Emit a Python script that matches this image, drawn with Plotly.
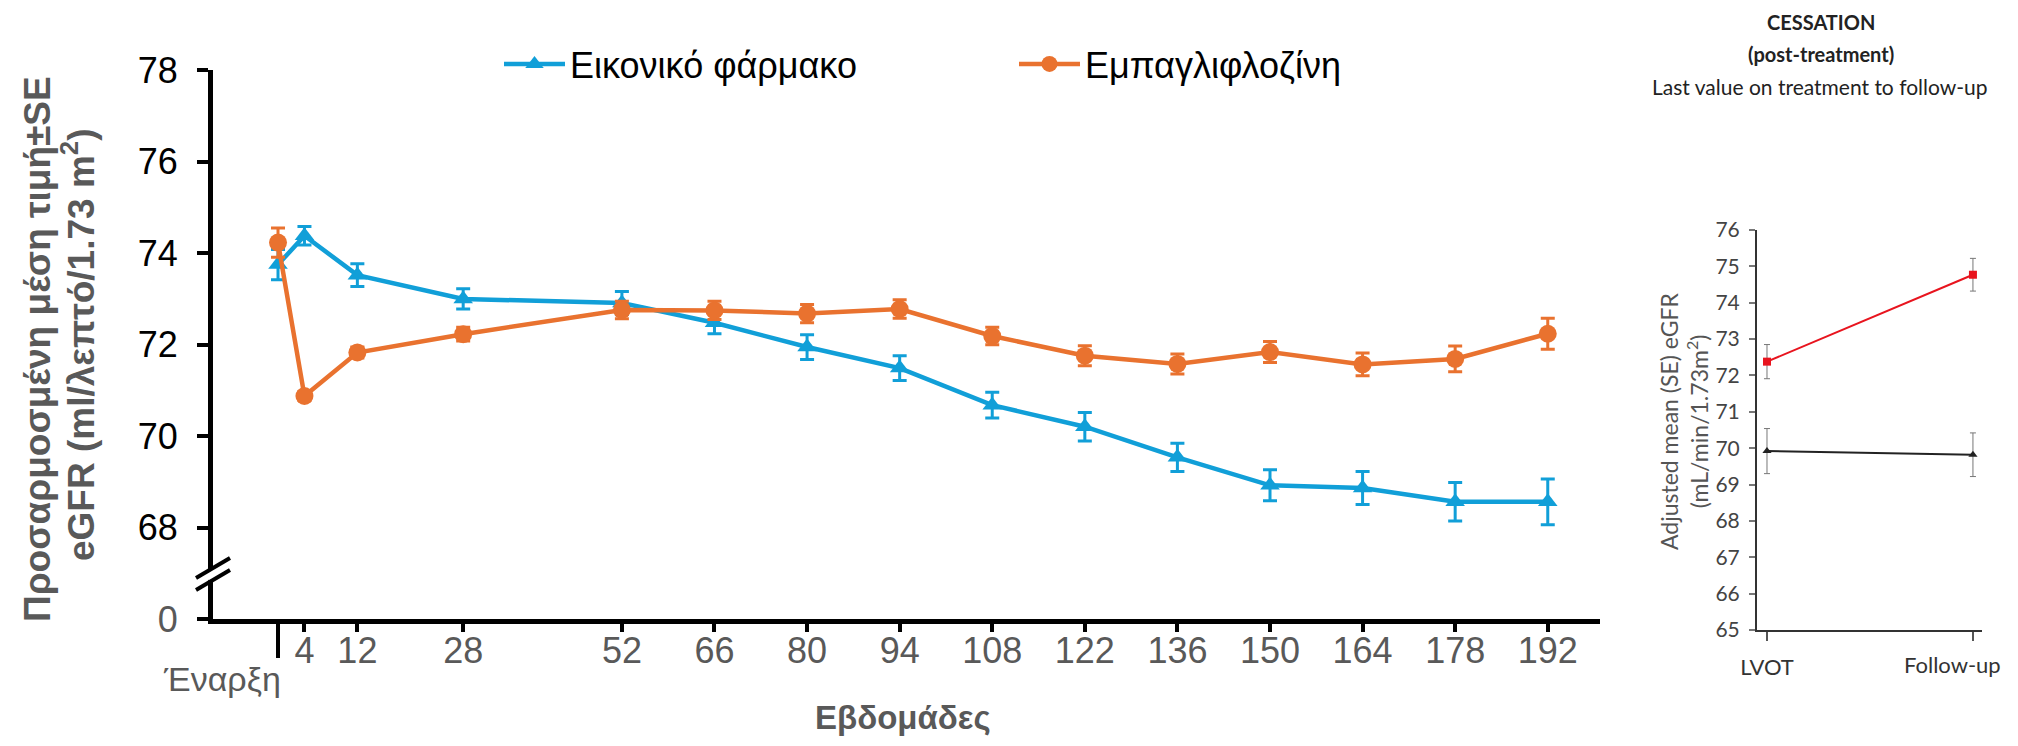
import plotly.graph_objects as go

# ---------------- data (main chart) ----------------
weeks = [0, 4, 12, 28, 52, 66, 80, 94, 108, 122, 136, 150, 164, 178, 192]
week_ticks = [4, 12, 28, 52, 66, 80, 94, 108, 122, 136, 150, 164, 178, 192]
placebo = [73.75, 74.38, 73.52, 73.00, 72.91, 72.48, 71.95, 71.49, 70.68, 70.21, 69.54, 68.93, 68.87, 68.57, 68.57]
placebo_se = [0.33, 0.20, 0.25, 0.22, 0.25, 0.24, 0.27, 0.27, 0.28, 0.31, 0.31, 0.34, 0.36, 0.42, 0.50]
empa = [74.23, 70.88, 71.83, 72.23, 72.76, 72.75, 72.68, 72.78, 72.19, 71.76, 71.58, 71.84, 71.57, 71.69, 72.24]
empa_se = [0.32, 0.10, 0.12, 0.15, 0.19, 0.20, 0.20, 0.20, 0.19, 0.22, 0.22, 0.23, 0.25, 0.28, 0.34]
y_ticks = [68, 70, 72, 74, 76, 78]
Y_BREAK_BASE = 66.01  # axis position labelled "0" (broken axis)

# ---------------- data (inset: cessation) ----------------
cess_cats = ["LVOT", "Follow-up"]
cess_red = [72.38, 74.77]
cess_red_se = [0.47, 0.45]
cess_black = [69.92, 69.82]
cess_black_se = [0.62, 0.60]
cess_ticks = list(range(65, 77))

BLUE = "#119FD8"
ORANGE = "#E9722F"
GRAY = "#595959"
FONT = "Liberation Sans, Arial, sans-serif"
FONT2 = "Lato, Open Sans, sans-serif"

W, H = 2018, 746
def px_x(p): return p / W
def px_y(p): return (H - p) / H

fig = go.Figure()

fig.add_trace(go.Scatter(
    x=weeks, y=placebo, name="Εικονικό φάρμακο", mode="lines+markers",
    line=dict(color=BLUE, width=4.5),
    marker=dict(symbol="triangle-up", size=17, color=BLUE),
    error_y=dict(type="data", array=placebo_se, color=BLUE, thickness=3, width=7),
    legend="legend",
))
fig.add_trace(go.Scatter(
    x=weeks, y=empa, name="Εμπαγλιφλοζίνη", mode="lines+markers",
    line=dict(color=ORANGE, width=4.5),
    marker=dict(symbol="circle", size=18, color=ORANGE),
    error_y=dict(type="data", array=empa_se, color=ORANGE, thickness=3, width=7),
    legend="legend2",
))

# inset
fig.add_trace(go.Scatter(
    x=[0, 1], y=cess_red, mode="lines+markers", showlegend=False,
    line=dict(color="#E8141E", width=2),
    marker=dict(symbol="square", size=8, color="#E8141E"),
    error_y=dict(type="data", array=cess_red_se, color="#777777", thickness=1, width=3),
    xaxis="x2", yaxis="y2",
))
fig.add_trace(go.Scatter(
    x=[0, 1], y=cess_black, mode="lines+markers", showlegend=False,
    line=dict(color="#222222", width=2),
    marker=dict(symbol="triangle-up", size=8, color="#222222"),
    error_y=dict(type="data", array=cess_black_se, color="#777777", thickness=1, width=3),
    xaxis="x2", yaxis="y2",
))

main_x_dom = [px_x(213), px_x(1600)]
main_y_dom = [px_y(619), px_y(70)]
ins_x_dom = [px_x(1757), px_x(1982)]
ins_y_dom = [px_y(630), px_y(230)]

fig.update_layout(
    width=W, height=H, autosize=False,
    margin=dict(l=0, r=0, t=0, b=0, autoexpand=False),
    paper_bgcolor="white", plot_bgcolor="white",
    font=dict(family=FONT, color="black"),
    xaxis=dict(
        domain=main_x_dom, range=[-9.83, 199.9],
        tickvals=week_ticks, ticktext=[str(v) for v in week_ticks],
        ticks="outside", ticklen=8, tickwidth=4, tickcolor="black",
        showline=True, linecolor="black", linewidth=5,
        showgrid=False, zeroline=False,
        tickfont=dict(family=FONT, size=36, color=GRAY),
        ticklabelstandoff=-12,
    ),
    yaxis=dict(
        domain=main_y_dom, range=[Y_BREAK_BASE, 78],
        tickvals=[Y_BREAK_BASE] + y_ticks,
        ticktext=["<span style='color:%s'>0</span>" % GRAY] + [str(v) for v in y_ticks],
        ticks="outside", ticklen=11, tickwidth=4, tickcolor="black",
        showline=True, linecolor="black", linewidth=5,
        showgrid=False, zeroline=False,
        tickfont=dict(family=FONT, size=36, color="black"),
        ticklabelstandoff=12,
    ),
    xaxis2=dict(
        domain=ins_x_dom, range=[-0.0485, 1.044], anchor="y2",
        tickvals=[0, 1], ticktext=[cess_cats[0], ""],
        ticks="outside", ticklen=9, tickwidth=1.5, tickcolor="#555555",
        showline=True, linecolor="#333333", linewidth=2,
        showgrid=False, zeroline=False,
        tickfont=dict(family=FONT2, size=22, color="#333333"),
        ticklabelstandoff=8,
    ),
    yaxis2=dict(
        domain=ins_y_dom, range=[65, 76], anchor="x2",
        tickvals=cess_ticks,
        ticks="outside", ticklen=6, tickwidth=1.5, tickcolor="#777777",
        showline=True, linecolor="#333333", linewidth=2,
        showgrid=False, zeroline=False,
        tickfont=dict(family=FONT2, size=21, color="#444444"),
        ticklabelstandoff=5,
    ),
    legend=dict(
        x=px_x(499), y=px_y(64), xanchor="left", yanchor="middle",
        orientation="h", bgcolor="rgba(0,0,0,0)", borderwidth=0,
        font=dict(family=FONT, size=36, color="black"), itemwidth=61,
    ),
    legend2=dict(
        x=px_x(1014), y=px_y(64), xanchor="left", yanchor="middle",
        orientation="h", bgcolor="rgba(0,0,0,0)", borderwidth=0,
        font=dict(family=FONT, size=36, color="black"), itemwidth=61,
    ),
)

# axis break marks on the main y axis
brk_x = px_x(213)
brk_y = px_y(574)
fig.add_shape(type="line", xref="paper", yref="paper", xsizemode="pixel", ysizemode="pixel",
              xanchor=brk_x, yanchor=brk_y, x0=-6, y0=-4, x1=6, y1=4,
              line=dict(color="white", width=8), layer="above")
for dy in (-6, 6):
    fig.add_shape(type="line", xref="paper", yref="paper", xsizemode="pixel", ysizemode="pixel",
                  xanchor=brk_x, yanchor=brk_y, x0=-17, y0=-10 + dy, x1=17, y1=10 + dy,
                  line=dict(color="black", width=4), layer="above")

# baseline tick (week 0)
fig.add_shape(type="line", xref="x", yref="paper", x0=0, x1=0,
              y0=px_y(619), y1=px_y(658), line=dict(color="black", width=4), layer="above")

annotations = [
    dict(text="Έναρξη", x=px_x(222), y=px_y(679), xref="paper", yref="paper",
         showarrow=False, xanchor="center", yanchor="middle",
         font=dict(family=FONT, size=34, color=GRAY)),
    dict(text="<b>Εβδομάδες</b>", x=px_x(903), y=px_y(717), xref="paper", yref="paper",
         showarrow=False, xanchor="center", yanchor="middle",
         font=dict(family=FONT, size=33, color=GRAY)),
    dict(text="<b>Προσαρμοσμένη μέση τιμή±SE</b>",
         x=px_x(37), y=px_y(349), xref="paper", yref="paper", textangle=-90,
         showarrow=False, xanchor="center", yanchor="middle",
         font=dict(family=FONT, size=37, color=GRAY)),
    dict(text="<b>eGFR (ml/λεπτό/1.73 m<sup>2</sup>)</b>",
         x=px_x(78), y=px_y(345), xref="paper", yref="paper", textangle=-90,
         showarrow=False, xanchor="center", yanchor="middle",
         font=dict(family=FONT, size=37, color=GRAY)),
    dict(text="<b>CESSATION</b>", x=px_x(1821), y=px_y(22), xref="paper", yref="paper",
         showarrow=False, xanchor="center", yanchor="middle",
         font=dict(family=FONT2, size=20, color="#222222")),
    dict(text="<b>(post-treatment)</b>", x=px_x(1821), y=px_y(54), xref="paper", yref="paper",
         showarrow=False, xanchor="center", yanchor="middle",
         font=dict(family=FONT2, size=20, color="#222222")),
    dict(text="Last value on treatment to follow-up", x=px_x(1820), y=px_y(87), xref="paper", yref="paper",
         showarrow=False, xanchor="center", yanchor="middle",
         font=dict(family=FONT2, size=21, color="#222222")),
    dict(text="Adjusted mean (SE) eGFR<br>(mL/min/1.73m<sup>2</sup>)",
         x=px_x(1684), y=px_y(421), xref="paper", yref="paper", textangle=-90,
         showarrow=False, xanchor="center", yanchor="middle",
         font=dict(family=FONT2, size=23, color="#555555")),
    # category label of the inset's second tick, set left of its tick as in the source
    dict(text=cess_cats[1], x=1, y=65, xref="x2", yref="y2", xshift=-20, yshift=-34,
         showarrow=False, xanchor="center", yanchor="middle",
         font=dict(family=FONT2, size=22, color="#333333")),
]
fig.update_layout(annotations=annotations)

fig.write_html("out.html")
